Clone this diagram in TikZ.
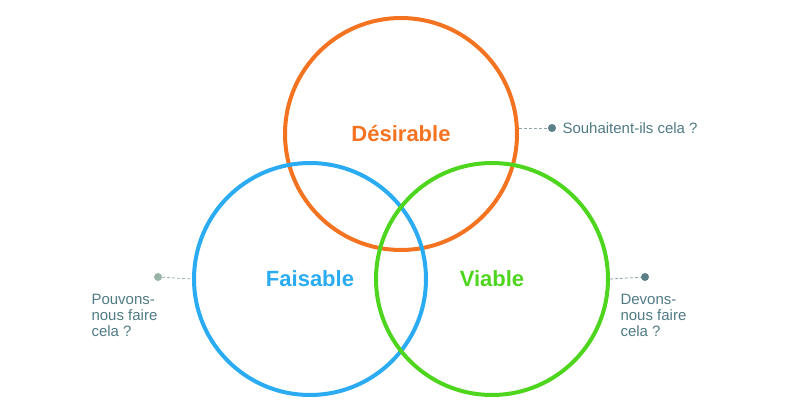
\documentclass[tikz,border=0pt]{standalone}
\usepackage{fontspec}
\setmainfont{Liberation Sans}
\usetikzlibrary{positioning}
\definecolor{orangeC}{HTML}{F47320}
\definecolor{blueC}{HTML}{2AABF2}
\definecolor{greenC}{HTML}{4ED61E}
\definecolor{noteC}{HTML}{4F7A84}
\definecolor{dotC}{HTML}{5B7F86}
\definecolor{dotL}{HTML}{98B5A8}

\begin{document}
\begin{tikzpicture}[x=1pt,y=-1pt]
    \tikzset{
        ring/.style={draw=#1, line width=4pt, circle, minimum size=232pt, inner sep=0pt},
        title/.style={font=\fontsize{22}{26}\selectfont\bfseries, text=#1},
        note/.style={font=\fontsize{15}{16}\selectfont, text=noteC, align=left},
        leader/.style={densely dashed, draw=dotC!70, line width=0.8pt},
        pin/.style={circle, fill=#1, inner sep=0pt, minimum size=8pt}
    }
    \useasboundingbox (0,0) rectangle (800,419);

    % The three circles
    \node[ring=orangeC] (des) at (401,134) {};
    \node[ring=blueC] (fai) at (310,279) {};
    \node[ring=greenC] (via) at (492,279) {};

    % Titles
    \node[title=orangeC] at (des.center) {Désirable};
    \node[title=blueC] at (fai.center) {Faisable};
    \node[title=greenC] at (via.center) {Viable};

    % Side notes
    \node[pin=dotC] (pd) at (552,128) {};
    \node[note, anchor=west] (nd) at (559,128) {Souhaitent-ils cela ?};
    \draw[leader] (des.east |- pd) -- (pd);

    \node[pin=dotL] (pf) at (158,277) {};
    \node[note, anchor=north west] (nf) at (88,291) {Pouvons-\\nous faire\\cela ?};
    \draw[leader, draw=dotL] (pf) -- (fai.west);

    \node[pin=dotC] (pv) at (645,277) {};
    \node[note, anchor=north west] (nv) at (617,291) {Devons-\\nous faire\\cela ?};
    \draw[leader] (via.east) -- (pv);
\end{tikzpicture}
\end{document}
